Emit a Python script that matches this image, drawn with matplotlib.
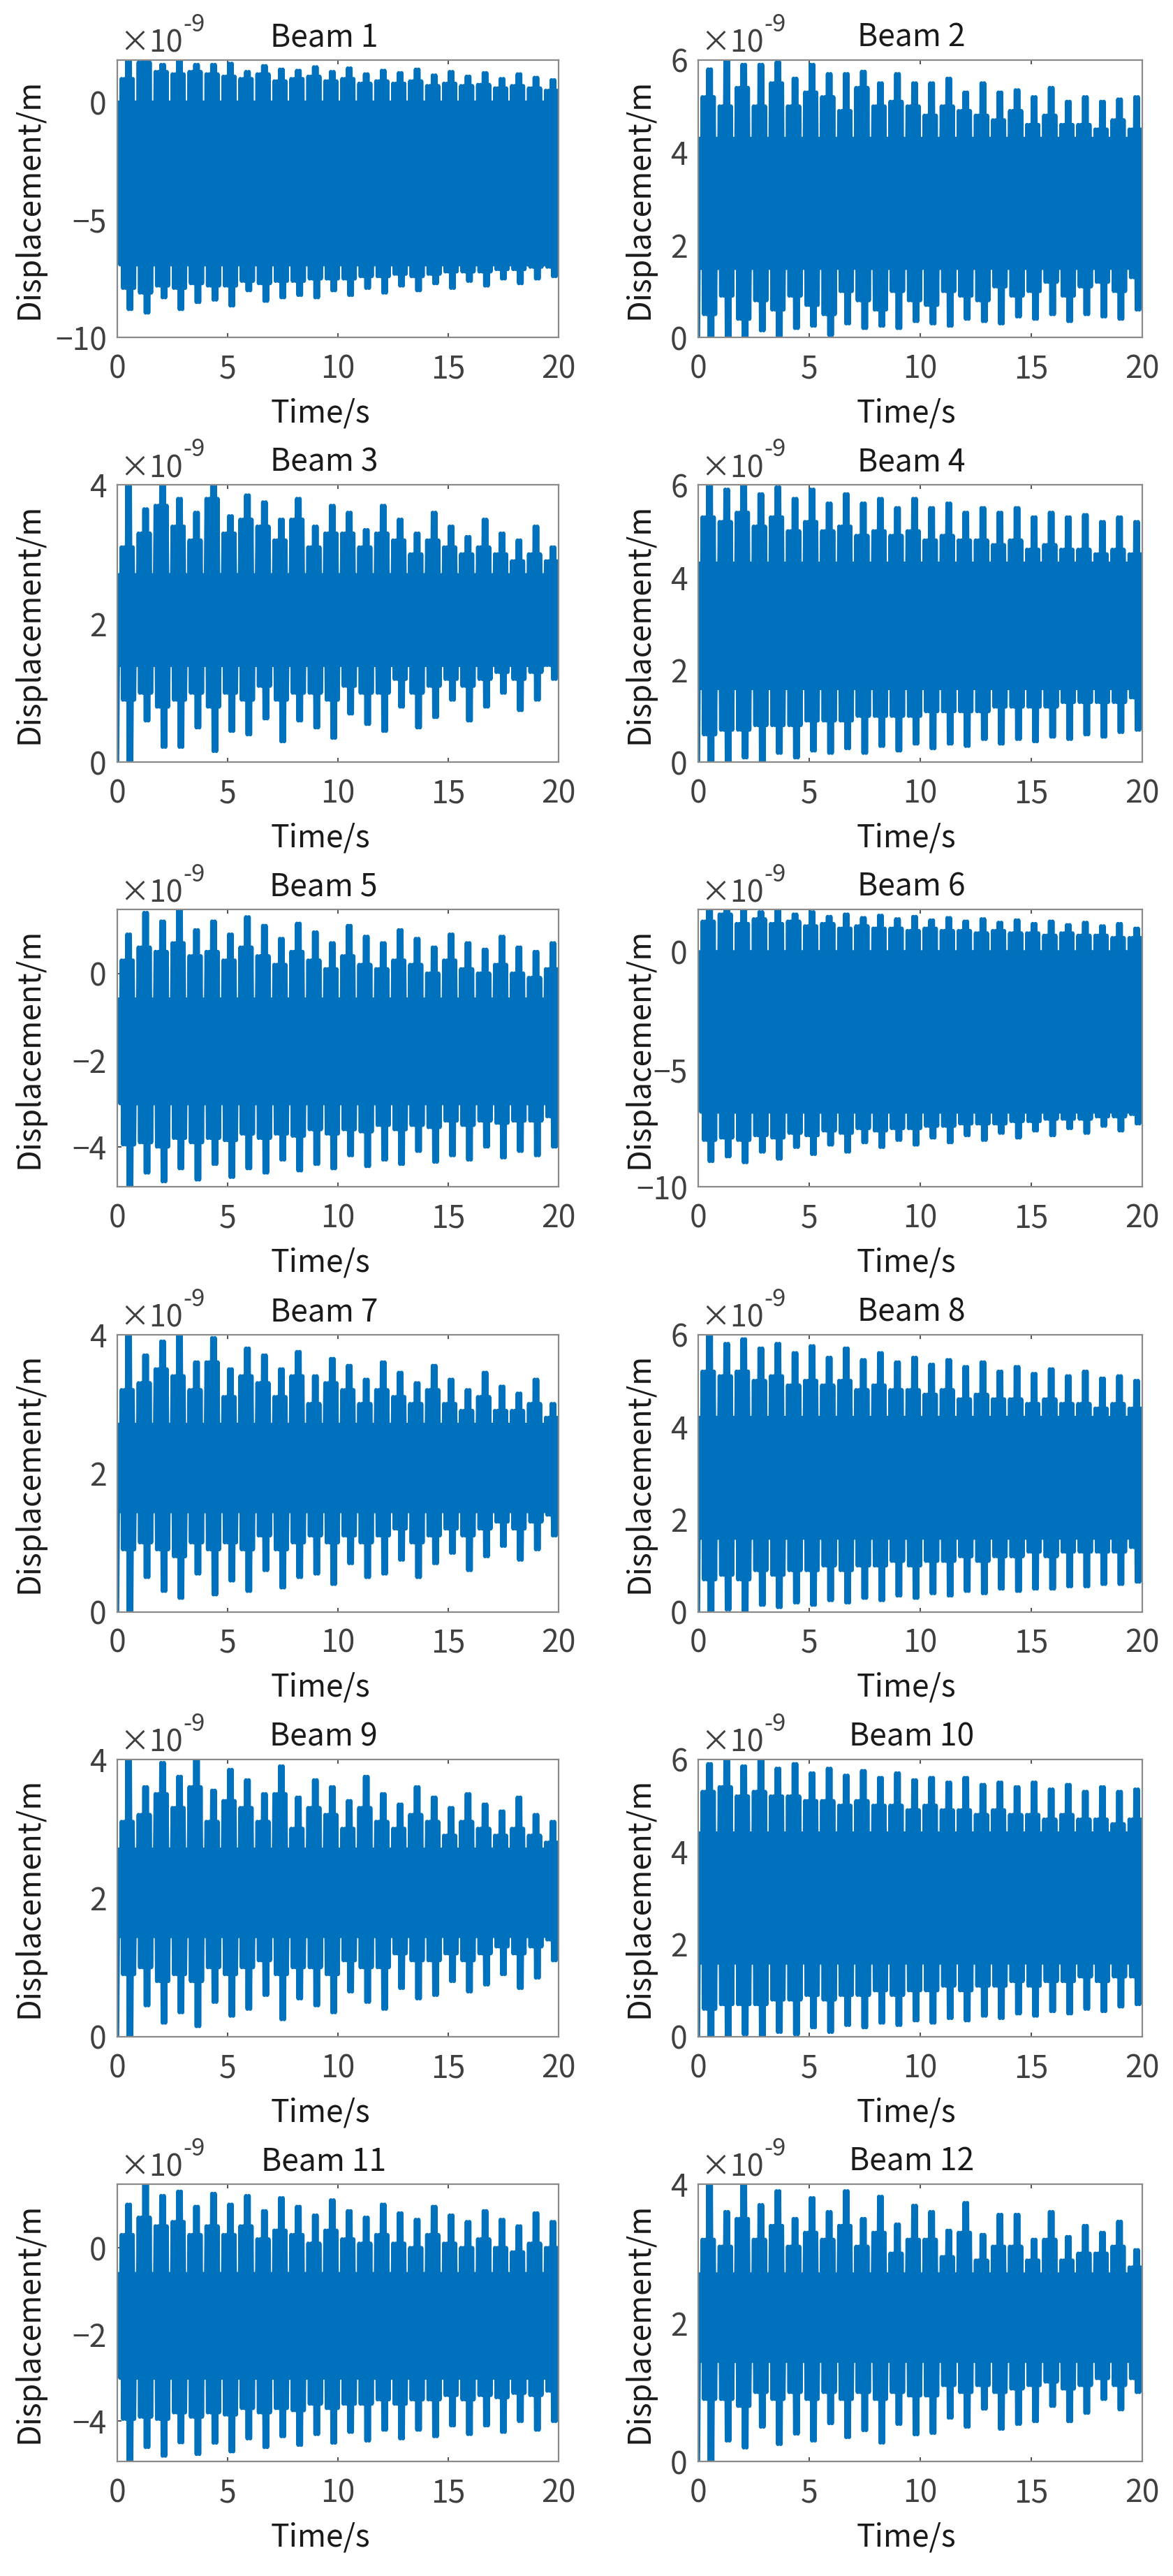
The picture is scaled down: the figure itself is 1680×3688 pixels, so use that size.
import numpy as np
import matplotlib
matplotlib.use('Agg')
import matplotlib.pyplot as plt

plt.rcParams['font.family'] = ['Noto Sans CJK SC', 'DejaVu Sans']

# values in units of 1e-9 m, one entry per burst (26 bursts over 0..20 s)
# tip_hi: upper spike tips, sh_hi: upper shoulders, sh_lo/tip_lo: same for the lower edge
# core: (upper, lower) level of the solid band, start: value at t=0

tip_hi_1 = [1.8, 1.8, 1.6, 1.8, 1.6, 1.6, 1.65, 1.3, 1.55, 1.4, 1.35, 1.5, 1.3, 1.45, 1.2, 1.35, 1.25, 1.4, 1.15, 1.3, 1.1, 1.25, 1.0, 1.2, 1.05, 0.95]
sh_hi_1 = [1.0, 1.7, 1.3, 1.2, 1.3, 1.2, 1.1, 1.0, 1.2, 0.9, 1.0, 1.1, 0.9, 1.0, 0.8, 0.9, 0.8, 0.9, 0.7, 0.8, 0.7, 0.75, 0.6, 0.7, 0.6, 0.5]
sh_lo_1 = [-7.9, -8.1, -7.8, -7.9, -7.7, -7.8, -7.8, -7.6, -7.7, -7.6, -7.6, -7.5, -7.5, -7.5, -7.4, -7.4, -7.3, -7.4, -7.3, -7.2, -7.2, -7.2, -7.1, -7.1, -7.0, -7.0]
tip_lo_1 = [-8.8, -8.95, -8.3, -8.8, -8.5, -8.4, -8.65, -8.0, -8.45, -8.3, -8.2, -8.3, -8.0, -8.2, -7.9, -8.1, -7.8, -8.0, -7.7, -7.9, -7.6, -7.8, -7.5, -7.7, -7.5, -7.4]
core_1 = (0.0, -6.9)
start_1 = 0.0

tip_hi_2 = [5.8, 6.0, 5.9, 5.9, 5.95, 5.6, 5.9, 5.7, 5.7, 5.75, 5.5, 5.7, 5.5, 5.5, 5.6, 5.3, 5.5, 5.3, 5.35, 5.2, 5.4, 5.1, 5.2, 5.1, 5.15, 5.2]
sh_hi_2 = [5.2, 5.0, 5.4, 5.0, 5.5, 5.0, 5.3, 5.2, 4.9, 5.4, 5.0, 5.1, 5.0, 4.8, 5.0, 4.9, 4.8, 4.7, 4.9, 4.6, 4.8, 4.6, 4.6, 4.5, 4.7, 4.5]
sh_lo_2 = [0.5, 0.9, 0.4, 0.8, 0.6, 0.9, 0.7, 0.5, 1.0, 0.8, 0.6, 1.0, 0.8, 0.7, 1.0, 0.9, 0.8, 1.1, 0.9, 1.0, 1.2, 0.9, 1.1, 1.2, 1.0, 1.3]
tip_lo_2 = [0.0, 0.0, 0.0, 0.15, 0.0, 0.2, 0.25, 0.05, 0.3, 0.2, 0.25, 0.2, 0.35, 0.3, 0.25, 0.4, 0.35, 0.3, 0.45, 0.4, 0.5, 0.35, 0.5, 0.45, 0.4, 0.6]
core_2 = (4.3, 1.5)
start_2 = 0.0

tip_hi_3 = [4.0, 3.65, 4.0, 3.8, 3.6, 4.0, 3.55, 3.85, 3.75, 3.5, 3.8, 3.4, 3.7, 3.6, 3.35, 3.7, 3.5, 3.3, 3.6, 3.4, 3.25, 3.5, 3.3, 3.2, 3.4, 3.1]
sh_hi_3 = [3.1, 3.3, 3.7, 3.4, 3.2, 3.8, 3.3, 3.5, 3.4, 3.2, 3.5, 3.1, 3.3, 3.3, 3.1, 3.3, 3.2, 3.0, 3.2, 3.1, 3.0, 3.1, 3.0, 2.9, 3.0, 2.9]
sh_lo_3 = [0.9, 1.0, 0.8, 0.9, 1.0, 0.8, 1.0, 0.9, 1.1, 0.9, 1.0, 1.0, 0.9, 1.1, 1.0, 1.0, 1.2, 1.0, 1.1, 1.2, 1.1, 1.2, 1.3, 1.2, 1.3, 1.4]
tip_lo_3 = [0.0, 0.6, 0.22, 0.22, 0.5, 0.16, 0.45, 0.4, 0.63, 0.3, 0.6, 0.5, 0.35, 0.7, 0.55, 0.45, 0.8, 0.5, 0.65, 0.9, 0.6, 0.8, 1.0, 0.75, 0.9, 1.2]
core_3 = (2.7, 1.4)
start_3 = 0.0

tip_hi_4 = [6.0, 5.9, 6.0, 5.8, 5.95, 5.7, 5.9, 5.6, 5.8, 5.6, 5.7, 5.5, 5.7, 5.5, 5.6, 5.4, 5.5, 5.4, 5.5, 5.3, 5.4, 5.3, 5.35, 5.2, 5.3, 5.2]
sh_hi_4 = [5.3, 5.2, 5.4, 5.1, 5.3, 5.0, 5.2, 5.0, 5.1, 4.9, 5.0, 4.9, 5.0, 4.8, 4.9, 4.8, 4.8, 4.7, 4.8, 4.6, 4.7, 4.6, 4.6, 4.5, 4.6, 4.5]
sh_lo_4 = [0.6, 0.7, 0.7, 0.8, 0.8, 0.8, 0.9, 0.9, 0.9, 1.0, 1.0, 1.0, 1.0, 1.1, 1.1, 1.1, 1.1, 1.2, 1.2, 1.2, 1.2, 1.3, 1.3, 1.3, 1.3, 1.4]
tip_lo_4 = [0.0, 0.0, 0.1, 0.0, 0.2, 0.1, 0.25, 0.2, 0.3, 0.2, 0.35, 0.25, 0.4, 0.3, 0.4, 0.35, 0.5, 0.4, 0.5, 0.45, 0.55, 0.5, 0.6, 0.55, 0.65, 0.7]
core_4 = (4.3, 1.6)
start_4 = 0.0

tip_hi_5 = [0.9, 1.4, 1.2, 1.47, 1.0, 1.2, 0.9, 1.3, 1.1, 0.8, 1.15, 0.95, 0.7, 1.1, 0.85, 0.7, 1.0, 0.8, 0.6, 0.9, 0.7, 0.55, 0.85, 0.6, 0.5, 0.7]
sh_hi_5 = [0.3, 0.6, 0.5, 0.7, 0.4, 0.5, 0.3, 0.6, 0.4, 0.2, 0.5, 0.3, 0.1, 0.4, 0.2, 0.1, 0.3, 0.2, 0.0, 0.3, 0.1, 0.0, 0.2, 0.0, -0.1, 0.1]
sh_lo_5 = [-3.95, -3.9, -4.0, -3.8, -3.9, -3.8, -3.85, -3.7, -3.8, -3.7, -3.75, -3.6, -3.7, -3.6, -3.65, -3.5, -3.6, -3.5, -3.55, -3.4, -3.5, -3.4, -3.45, -3.4, -3.4, -3.3]
tip_lo_5 = [-4.9, -4.6, -4.8, -4.5, -4.76, -4.4, -4.7, -4.5, -4.6, -4.3, -4.55, -4.4, -4.5, -4.2, -4.45, -4.3, -4.4, -4.1, -4.35, -4.2, -4.3, -4.0, -4.25, -4.1, -4.2, -4.0]
core_5 = (-0.6, -3.0)
start_5 = -1.3

tip_hi_6 = [1.8, 1.8, 1.8, 1.7, 1.8, 1.6, 1.7, 1.5, 1.6, 1.45, 1.55, 1.4, 1.5, 1.35, 1.45, 1.3, 1.4, 1.25, 1.35, 1.2, 1.3, 1.15, 1.25, 1.1, 1.2, 1.0]
sh_hi_6 = [1.3, 1.6, 1.2, 1.4, 1.2, 1.3, 1.1, 1.2, 1.0, 1.1, 1.0, 1.0, 0.9, 1.0, 0.9, 0.9, 0.8, 0.9, 0.8, 0.8, 0.7, 0.8, 0.7, 0.7, 0.6, 0.6]
sh_lo_6 = [-8.0, -7.9, -8.0, -7.8, -7.9, -7.7, -7.8, -7.6, -7.7, -7.5, -7.6, -7.5, -7.5, -7.4, -7.4, -7.3, -7.3, -7.3, -7.2, -7.2, -7.1, -7.1, -7.1, -7.0, -7.0, -6.9]
tip_lo_6 = [-8.9, -8.7, -8.95, -8.5, -8.8, -8.3, -8.6, -8.2, -8.5, -8.1, -8.3, -8.0, -8.2, -7.9, -8.1, -7.8, -8.0, -7.7, -7.9, -7.6, -7.8, -7.5, -7.7, -7.4, -7.6, -7.3]
core_6 = (0.0, -6.8)
start_6 = -0.8

tip_hi_7 = [4.0, 3.7, 3.9, 4.0, 3.6, 3.95, 3.5, 3.8, 3.7, 3.5, 3.75, 3.4, 3.65, 3.55, 3.35, 3.6, 3.45, 3.3, 3.55, 3.35, 3.2, 3.45, 3.25, 3.15, 3.35, 3.0]
sh_hi_7 = [3.2, 3.3, 3.5, 3.4, 3.2, 3.6, 3.1, 3.4, 3.3, 3.1, 3.4, 3.0, 3.3, 3.2, 3.0, 3.2, 3.1, 3.0, 3.2, 3.0, 2.9, 3.1, 2.9, 2.9, 3.0, 2.8]
sh_lo_7 = [0.9, 1.0, 0.9, 0.8, 1.0, 0.9, 1.0, 0.9, 1.1, 0.9, 1.0, 1.1, 1.0, 1.1, 1.0, 1.1, 1.2, 1.0, 1.1, 1.2, 1.1, 1.2, 1.3, 1.2, 1.3, 1.4]
tip_lo_7 = [0.0, 0.5, 0.3, 0.2, 0.55, 0.25, 0.45, 0.3, 0.6, 0.35, 0.5, 0.55, 0.4, 0.7, 0.5, 0.55, 0.75, 0.5, 0.7, 0.85, 0.6, 0.8, 0.95, 0.75, 0.9, 1.1]
core_7 = (2.7, 1.45)
start_7 = 0.0

tip_hi_8 = [6.0, 5.8, 5.9, 5.7, 5.8, 5.6, 5.75, 5.5, 5.7, 5.45, 5.6, 5.4, 5.5, 5.35, 5.45, 5.3, 5.4, 5.2, 5.3, 5.15, 5.25, 5.1, 5.2, 5.05, 5.1, 5.0]
sh_hi_8 = [5.2, 5.1, 5.2, 5.0, 5.1, 4.9, 5.0, 4.9, 5.0, 4.8, 4.9, 4.8, 4.8, 4.7, 4.8, 4.6, 4.7, 4.6, 4.6, 4.5, 4.6, 4.5, 4.5, 4.4, 4.5, 4.4]
sh_lo_8 = [0.7, 0.8, 0.7, 0.9, 0.8, 0.9, 0.9, 1.0, 0.9, 1.0, 1.0, 1.1, 1.0, 1.1, 1.1, 1.2, 1.1, 1.2, 1.2, 1.3, 1.2, 1.3, 1.3, 1.3, 1.3, 1.4]
tip_lo_8 = [0.0, 0.05, 0.0, 0.15, 0.1, 0.2, 0.15, 0.25, 0.2, 0.3, 0.25, 0.35, 0.3, 0.4, 0.35, 0.45, 0.4, 0.5, 0.45, 0.5, 0.5, 0.55, 0.55, 0.6, 0.6, 0.65]
core_8 = (4.2, 1.6)
start_8 = 0.0

tip_hi_9 = [4.0, 3.6, 3.95, 3.75, 4.0, 3.55, 3.85, 3.7, 3.5, 3.9, 3.45, 3.7, 3.6, 3.4, 3.75, 3.5, 3.35, 3.6, 3.45, 3.3, 3.5, 3.35, 3.25, 3.45, 3.2, 3.1]
sh_hi_9 = [3.1, 3.2, 3.5, 3.3, 3.6, 3.1, 3.4, 3.3, 3.1, 3.5, 3.0, 3.3, 3.2, 3.0, 3.3, 3.1, 3.0, 3.2, 3.1, 2.9, 3.1, 3.0, 2.9, 3.0, 2.9, 2.8]
sh_lo_9 = [0.9, 1.0, 0.8, 0.9, 0.8, 1.0, 0.9, 1.0, 1.1, 0.9, 1.0, 1.0, 0.9, 1.1, 1.0, 1.0, 1.2, 1.1, 1.1, 1.2, 1.1, 1.2, 1.3, 1.2, 1.3, 1.4]
tip_lo_9 = [0.0, 0.45, 0.2, 0.35, 0.15, 0.5, 0.3, 0.4, 0.6, 0.25, 0.55, 0.45, 0.35, 0.65, 0.5, 0.4, 0.7, 0.55, 0.6, 0.8, 0.65, 0.75, 0.9, 0.7, 0.85, 1.1]
core_9 = (2.7, 1.45)
start_9 = 0.0

tip_hi_10 = [5.9, 6.0, 5.85, 6.0, 5.8, 5.9, 5.7, 5.8, 5.65, 5.75, 5.6, 5.7, 5.55, 5.6, 5.5, 5.6, 5.45, 5.5, 5.4, 5.5, 5.35, 5.45, 5.3, 5.4, 5.3, 5.35]
sh_hi_10 = [5.3, 5.4, 5.2, 5.3, 5.2, 5.2, 5.1, 5.1, 5.0, 5.1, 5.0, 5.0, 4.9, 5.0, 4.9, 4.9, 4.8, 4.9, 4.8, 4.8, 4.7, 4.8, 4.7, 4.7, 4.6, 4.7]
sh_lo_10 = [0.6, 0.7, 0.7, 0.7, 0.8, 0.8, 0.9, 0.8, 0.9, 0.9, 1.0, 0.9, 1.0, 1.0, 1.1, 1.0, 1.1, 1.1, 1.2, 1.1, 1.2, 1.2, 1.3, 1.2, 1.3, 1.3]
tip_lo_10 = [0.0, 0.0, 0.05, 0.0, 0.1, 0.05, 0.2, 0.1, 0.25, 0.2, 0.3, 0.25, 0.35, 0.3, 0.4, 0.35, 0.45, 0.4, 0.5, 0.45, 0.55, 0.5, 0.6, 0.55, 0.65, 0.7]
core_10 = (4.4, 1.6)
start_10 = 0.0

tip_hi_11 = [1.0, 1.47, 1.2, 1.3, 0.95, 1.25, 1.0, 1.2, 0.85, 1.15, 0.95, 0.75, 1.1, 0.85, 0.7, 1.0, 0.8, 0.65, 0.95, 0.75, 0.6, 0.85, 0.65, 0.5, 0.8, 0.6]
sh_hi_11 = [0.3, 0.7, 0.5, 0.6, 0.3, 0.5, 0.3, 0.5, 0.2, 0.4, 0.3, 0.1, 0.4, 0.2, 0.1, 0.3, 0.1, 0.0, 0.3, 0.1, 0.0, 0.2, 0.0, -0.1, 0.1, 0.0]
sh_lo_11 = [-3.95, -3.9, -3.95, -3.8, -3.9, -3.8, -3.85, -3.7, -3.8, -3.7, -3.75, -3.6, -3.7, -3.6, -3.6, -3.5, -3.6, -3.5, -3.5, -3.4, -3.5, -3.4, -3.45, -3.35, -3.4, -3.3]
tip_lo_11 = [-4.92, -4.6, -4.8, -4.49, -4.76, -4.5, -4.7, -4.4, -4.6, -4.35, -4.55, -4.3, -4.5, -4.25, -4.45, -4.2, -4.4, -4.2, -4.35, -4.1, -4.3, -4.1, -4.25, -4.0, -4.2, -4.0]
core_11 = (-0.6, -3.0)
start_11 = -1.3

tip_hi_12 = [4.0, 3.6, 4.0, 3.7, 3.9, 3.5, 3.8, 3.6, 3.9, 3.5, 3.82, 3.42, 3.69, 3.6, 3.33, 3.73, 3.27, 3.56, 3.56, 3.2, 3.6, 3.24, 3.4, 3.3, 3.46, 3.05]
sh_hi_12 = [3.2, 3.1, 3.5, 3.2, 3.4, 3.1, 3.3, 3.2, 3.4, 3.1, 3.3, 3.0, 3.2, 3.2, 2.95, 3.3, 2.9, 3.1, 3.1, 2.9, 3.2, 2.9, 3.0, 3.0, 3.1, 2.8]
sh_lo_12 = [0.9, 0.9, 0.8, 1.0, 0.9, 1.0, 0.9, 1.0, 0.9, 1.0, 0.9, 1.0, 0.95, 0.95, 1.1, 1.0, 1.1, 1.0, 1.05, 1.1, 1.15, 1.05, 1.1, 1.2, 1.1, 1.2]
tip_lo_12 = [0.0, 0.3, 0.2, 0.5, 0.25, 0.4, 0.3, 0.55, 0.35, 0.45, 0.27, 0.54, 0.39, 0.41, 0.63, 0.5, 0.76, 0.47, 0.54, 0.58, 0.8, 0.58, 0.7, 0.9, 0.75, 1.0]
core_12 = (2.7, 1.45)
start_12 = 0.0

# axis ranges (1e-9 m) and ticks
ylim_neg10 = (-10, 1.8)
ylim_six = (0, 6)
ylim_four = (0, 4)
ylim_neg5 = (-4.93, 1.47)
ticks_neg10 = [-10, -5, 0]
ticks_six = [0, 2, 4, 6]
ticks_four = [0, 2, 4]
ticks_neg5 = [-4, -2, 0]
xticks = [0, 5, 10, 15, 20]

beams = [
  (tip_hi_1, sh_hi_1, sh_lo_1, tip_lo_1, core_1, start_1, ylim_neg10, ticks_neg10),
  (tip_hi_2, sh_hi_2, sh_lo_2, tip_lo_2, core_2, start_2, ylim_six, ticks_six),
  (tip_hi_3, sh_hi_3, sh_lo_3, tip_lo_3, core_3, start_3, ylim_four, ticks_four),
  (tip_hi_4, sh_hi_4, sh_lo_4, tip_lo_4, core_4, start_4, ylim_six, ticks_six),
  (tip_hi_5, sh_hi_5, sh_lo_5, tip_lo_5, core_5, start_5, ylim_neg5, ticks_neg5),
  (tip_hi_6, sh_hi_6, sh_lo_6, tip_lo_6, core_6, start_6, ylim_neg10, ticks_neg10),
  (tip_hi_7, sh_hi_7, sh_lo_7, tip_lo_7, core_7, start_7, ylim_four, ticks_four),
  (tip_hi_8, sh_hi_8, sh_lo_8, tip_lo_8, core_8, start_8, ylim_six, ticks_six),
  (tip_hi_9, sh_hi_9, sh_lo_9, tip_lo_9, core_9, start_9, ylim_four, ticks_four),
  (tip_hi_10, sh_hi_10, sh_lo_10, tip_lo_10, core_10, start_10, ylim_six, ticks_six),
  (tip_hi_11, sh_hi_11, sh_lo_11, tip_lo_11, core_11, start_11, ylim_neg5, ticks_neg5),
  (tip_hi_12, sh_hi_12, sh_lo_12, tip_lo_12, core_12, start_12, ylim_four, ticks_four),
]

BLUE = '#0072BD'
TXT = '#1a1a1a'
TICK = '#404040'


def trace(tip_hi, sh_hi, sh_lo, tip_lo, core, start):
  # one burst: narrow gap, shoulder, wide tip, shoulder
  hi, lo = core
  y = [start]
  for a, b, c, d in zip(tip_hi, sh_hi, sh_lo, tip_lo):
    y += [hi, lo, b, c, b, c, a, d, a, d, b, c]
  y = np.array(y)
  t = np.linspace(0, 20, len(y))
  return t, y


def main():
  W, H = 1680, 3688
  fig = plt.figure(figsize=(W/100, H/100), dpi=100)

  for i, b in enumerate(beams):
    row, col = divmod(i, 2)
    left = 168 if col == 0 else 1000
    width = 632 if col == 0 else 636
    top = 86 + 608.2*row
    ax = fig.add_axes([left/W, 1 - (top + 397)/H, width/W, 397/H])

    t, y = trace(*b[:6])
    ax.plot(t, y, color=BLUE, lw=4.0, solid_joinstyle='round')

    ax.set_xlim(0, 20)
    ax.set_ylim(*b[6])
    ax.set_xticks(xticks)
    ax.set_yticks(b[7])
    ax.tick_params(direction='in', length=4, width=1.2, color='#333333',
                   top=True, right=True, labelsize=32, labelcolor=TICK)
    ax.tick_params(axis='x', pad=16)
    ax.tick_params(axis='y', pad=11)
    for s in ax.spines.values():
      s.set_color('#8a8a8a')
      s.set_linewidth(1.6)

    tx = 0.468 if col == 0 else 0.48
    ax.set_title('Beam %d' % (i + 1), fontsize=32, color=TXT, x=tx, pad=14)
    ax.set_xlabel('Time/s', fontsize=32, color=TXT)
    ax.xaxis.set_label_coords(0.46 if col == 0 else 0.469, -0.215)
    ax.set_ylabel('Displacement/m', fontsize=32, color=TXT)
    ax.yaxis.set_label_coords(-0.163 if col == 0 else -0.097, 0.5)

    off = ax.text(0.006, 1.028, '×10', transform=ax.transAxes,
                  fontsize=31, color=TICK, ha='left', va='baseline')
    ax.annotate('-9', xy=(1.0, 0.72), xycoords=off, fontsize=25,
                color=TICK, ha='left', va='bottom')

  fig.savefig('out.png', dpi=100)


if __name__ == "__main__":
  main()
